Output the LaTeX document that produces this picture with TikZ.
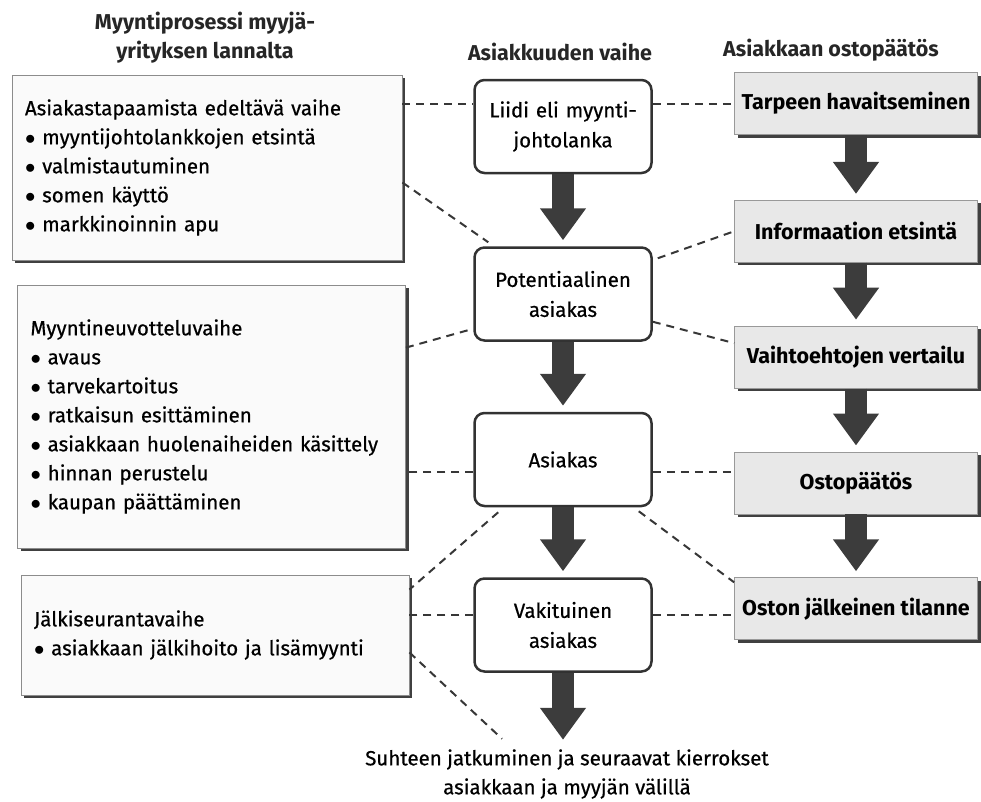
\documentclass[tikz,border=0pt]{standalone}
\usepackage{fontspec}
\setmainfont{Fira Sans}[UprightFeatures={FakeBold=0.6}]
\usepackage{tikz}
\usetikzlibrary{arrows.meta, positioning, calc, shadows}
\definecolor{framecolor}{RGB}{50, 50, 50}
\definecolor{arrowcolor}{RGB}{60, 60, 60}
\definecolor{dashcolor}{RGB}{55, 55, 55}
\definecolor{panelcolor}{RGB}{250, 250, 250}
\definecolor{buycolor}{RGB}{232, 232, 232}
\tikzstyle{header} = [align=center, font=\fontsize{21.5}{29}\selectfont\bfseries, color=black!85]
\tikzstyle{phase} = [draw=black!45, rectangle, fill=panelcolor, line width=0.8pt, align=left, inner xsep=13pt, font=\fontsize{20.5}{29}\selectfont, drop shadow={shadow xshift=3pt, shadow yshift=-3pt, fill=black!75, opacity=1}]
\tikzstyle{stage} = [draw=framecolor, rectangle, rounded corners=10pt, line width=2.5pt, fill=white, minimum width=177pt, minimum height=93pt, text width=165pt, align=center, font=\fontsize{20.5}{30}\selectfont]
\tikzstyle{buystep} = [draw=black!40, rectangle, fill=buycolor, line width=0.8pt, minimum width=243pt, minimum height=62pt, inner xsep=2pt, font=\fontsize{21.5}{24}\selectfont\bfseries, drop shadow={shadow xshift=3pt, shadow yshift=-3pt, fill=black!75, opacity=1}]
\tikzstyle{bigarrow} = [line width=22pt, -{Triangle[length=32pt, width=44pt]}, color=arrowcolor, shorten >=6pt]
\tikzstyle{link} = [dashcolor, line width=2pt, dash pattern=on 8pt off 6pt]
\newcommand{\itembullet}{$\bullet$\ }

\begin{document}
\begin{tikzpicture}[x=1pt, y=-1pt]
\useasboundingbox (0,0) rectangle (981,801);

% Headers
\node (hsales) [header] at (205,38) {Myyntiprosessi myyjä-\\yrityksen lannalta};
\node (hstage) [header] at (560,52) {Asiakkuuden vaihe};
\node (hbuy) [header] at (831,50) {Asiakkaan ostopäätös};

% Sales process
\node (prep) [phase, text width=364pt, minimum height=185pt] at (207,167.5) {Asiakastapaamista edeltävä vaihe\\\itembullet myyntijohtolankkojen etsintä\\\itembullet valmistautuminen\\\itembullet somen käyttö\\\itembullet markkinoinnin apu};

\node (talk) [phase, text width=362pt, minimum height=263pt] at (211.5,416.5) {Myyntineuvotteluvaihe\\\itembullet avaus\\\itembullet tarvekartoitus\\\itembullet ratkaisun esittäminen\\\itembullet asiakkaan huolenaiheiden käsittely\\\itembullet hinnan perustelu\\\itembullet kaupan päättäminen};

\node (care) [phase, text width=362pt, minimum height=120pt] at (215,635) {Jälkiseurantavaihe\\\itembullet asiakkaan jälkihoito ja lisämyynti};

% Customer stages
\node (lead) [stage] at (563,126.5) {Liidi eli myynti-\\johtolanka};
\node (prospect) [stage, below=72pt of lead] {Potentiaalinen\\asiakas};
\node (customer) [stage, below=70pt of prospect] {Asiakas};
\node (regular) [stage, below=70pt of customer] {Vakituinen\\asiakas};

% Buying decision
\node (need) [buystep] at (856,103.5) {Tarpeen havaitseminen};
\node (search) [buystep, below=65pt of need] {Informaation etsintä};
\node (compare) [buystep, below=63pt of search] {Vaihtoehtojen vertailu};
\node (decide) [buystep, below=63pt of compare] {Ostopäätös};
\node (after) [buystep, below=63pt of decide] {Oston jälkeinen tilanne};

\node (cont) [align=center, font=\fontsize{20.5}{29}\selectfont] at (567,774) {Suhteen jatkuminen ja seuraavat kierrokset\\asiakkaan ja myyjän välillä};

% Arrows
\draw [bigarrow] (lead) -- (prospect);
\draw [bigarrow] (prospect) -- (customer);
\draw [bigarrow] (customer) -- (regular);
\draw [bigarrow] (regular.south) -- (regular.south |- cont.north);

\draw [bigarrow] (need) -- (search);
\draw [bigarrow] (search) -- (compare);
\draw [bigarrow] (compare) -- (decide);
\draw [bigarrow] (decide) -- (after);

% Dashed links
\draw [link] (prep.east |- need.west) -- (lead.west |- need.west);
\draw [link] (lead.east |- need.west) -- (need.west);
\draw [link] ([yshift=-15pt]prep.east) -- ([xshift=15pt,yshift=4pt]prospect.north west);
\draw [link] ([xshift=5pt,yshift=-12pt]prospect.north east) -- (search.west);
\draw [link] ([yshift=-63pt]talk.north east) -- ([yshift=13pt]prospect.south west);
\draw [link] ([yshift=20pt]prospect.south east) -- ([yshift=14pt]compare.west);
\draw [link] ([yshift=-12pt]customer.west) -- ([yshift=-12pt]customer.west -| talk.east);
\draw [link] ([yshift=-12pt]customer.east) -- ([yshift=-12pt]customer.east -| decide.west);
\draw [link] ([xshift=25pt,yshift=-5pt]customer.south west) -- ([yshift=-15pt]care.north east);
\draw [link] ([xshift=-14pt,yshift=-4pt]customer.south east) -- ([yshift=-5pt]after.north west);
\draw [link] ([yshift=10pt]regular.west) -- ([yshift=10pt]regular.west -| care.east);
\draw [link] ([yshift=10pt]regular.east) -- ([yshift=10pt]regular.east -| after.west);
\draw [link] ([yshift=43pt]care.south east) -- ([xshift=-65pt,yshift=7pt]cont.north);

\end{tikzpicture}
\end{document}
